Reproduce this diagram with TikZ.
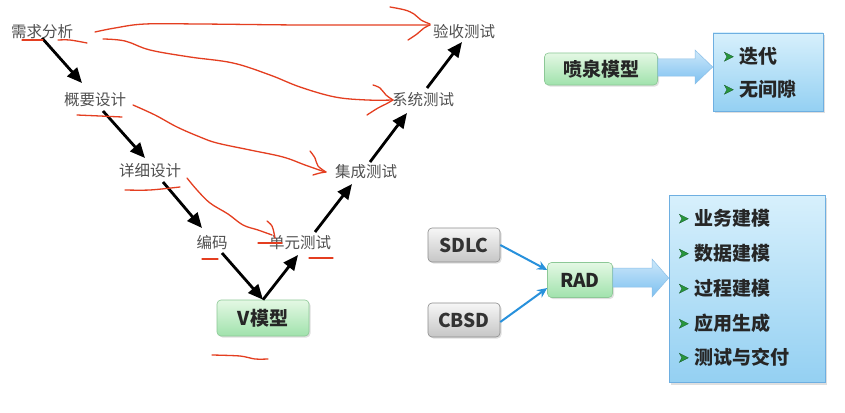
\documentclass[tikz,border=0pt]{standalone}
\usepackage{fontspec}
\setmainfont{Noto Sans CJK SC}
\usetikzlibrary{arrows.meta,calc,shadows}
\definecolor{labelgray}{RGB}{80,80,80}
\definecolor{redink}{RGB}{228,62,32}
\definecolor{gtop}{RGB}{228,248,228}
\definecolor{gbot}{RGB}{160,226,172}
\definecolor{gborder}{RGB}{140,200,150}
\definecolor{graytop}{RGB}{246,246,246}
\definecolor{graybot}{RGB}{198,198,198}
\definecolor{grayborder}{RGB}{140,140,140}
\definecolor{btop}{RGB}{215,240,252}
\definecolor{bbot}{RGB}{148,208,242}
\definecolor{bborder}{RGB}{110,175,225}
\definecolor{atop}{RGB}{205,232,250}
\definecolor{abot}{RGB}{125,192,240}
\definecolor{bullet}{RGB}{40,150,60}
\definecolor{bulletdark}{RGB}{20,90,40}
\definecolor{linkblue}{RGB}{40,145,220}
\begin{document}
\begin{tikzpicture}[x=1pt,y=-1pt,
  lbl/.style={font=\fontsize{15.5}{15.5}\selectfont, text=labelgray, inner sep=0pt},
  varrow/.style={line width=2.8pt, -{Triangle[length=15pt,width=13pt]}, black},
  ink/.style={draw=redink, line width=1.3pt, line cap=round, line join=round},
  greenbox/.style={draw=gborder, line width=0.6pt, rounded corners=4pt, top color=gtop, bottom color=gbot,
    font=\fontsize{19}{19}\selectfont\bfseries, text=black!85, inner sep=0pt,
    drop shadow={opacity=0.25, shadow xshift=1.5pt, shadow yshift=-1.5pt}},
  graybox/.style={draw=grayborder, line width=0.6pt, rounded corners=4pt, top color=graytop, bottom color=graybot,
    font=\fontsize{19}{19}\selectfont\bfseries, text=black!80, inner sep=0pt,
    drop shadow={opacity=0.25, shadow xshift=1.5pt, shadow yshift=-1.5pt}},
  bluebox/.style={draw=bborder, line width=0.6pt, top color=btop, bottom color=bbot, inner sep=0pt,
    drop shadow={opacity=0.25, shadow xshift=2pt, shadow yshift=-2pt}},
  bigarrow/.style={draw=bborder!80, line width=0.5pt, top color=atop, bottom color=abot},
  listitem/.style={anchor=west, font=\fontsize{19}{19}\selectfont\bfseries, text=black!85, inner sep=0pt},
  blink/.style={draw=linkblue, line width=2pt, -{Stealth[length=10pt,width=9pt]}}
]
\useasboundingbox (0,0) rectangle (845,412);
\fill[white] (0,0) rectangle (845,412);
\newcommand{\bul}{\tikz[baseline={(0,-6.5pt)},x=1pt,y=1pt]\filldraw[fill=bullet,draw=bulletdark,line width=0.3pt,line join=miter] (0,-4.5) -- (9,0) -- (0,4.5) -- (2.5,0) -- cycle;\hspace{6pt}}

% ---------- V model labels ----------
\node[lbl] (n1) at (42,32) {需求分析};
\node[lbl] (n2) at (95,100) {概要设计};
\node[lbl] (n3) at (150,171) {详细设计};
\node[lbl] (n4) at (212,243) {编码};
\node[lbl] (n5) at (300,243) {单元测试};
\node[lbl] (n6) at (366,172) {集成测试};
\node[lbl] (n7) at (423,100) {系统测试};
\node[lbl] (n8) at (464,32) {验收测试};
\node[greenbox, minimum width=92pt, minimum height=36pt] (V) at (263,318) {V模型};

% ---------- black arrows ----------
\draw[varrow] ($(n1)+(0,6)$) -- ($(n2)+(-13,-17)$);
\draw[varrow] ($(n2)+(8,11)$) -- ($(n3)+(-5,-13)$);
\draw[varrow] ($(n3)+(13,11)$) -- ($(n4)+(-10,-15)$);
\draw[varrow] ($(n4)+(10,10)$) -- (V.north);
\draw[varrow] (V.north) -- ($(n5)+(-2,12)$);
\draw[varrow] ($(n5)+(15,-11)$) -- ($(n6)+(-14,12)$);
\draw[varrow] ($(n6)+(4,-10)$) -- ($(n7)+(-16,13)$);
\draw[varrow] ($(n7)+(4,-12)$) -- ($(n8)+(-2,10)$);

% ---------- red hand annotations ----------
\draw[ink] plot[smooth, tension=0.6] coordinates {(95,32)(115,28)(145,24)(200,24)(300,25)(380,25)(430,25)};
\draw[ink] plot[smooth, tension=0.6] coordinates {(390,7)(405,10)(414,14)(421,20)(430,24)};
\draw[ink] plot[smooth, tension=0.6] coordinates {(408,40)(417,34)(424,28)(430,25)};

\draw[ink] plot[smooth, tension=0.6] coordinates {(103,39)(125,41)(150,50)(190,57)(233,63)(270,75)(300,87)(335,97)(367,100)(393,100)};
\draw[ink] plot[smooth, tension=0.6] coordinates {(373,85)(380,88)(386,95)(393,100)};
\draw[ink] plot[smooth, tension=0.6] coordinates {(367,115)(378,108)(386,104)(393,100)};

\draw[ink] plot[smooth, tension=0.6] coordinates {(133,105)(155,115)(177,127)(200,137)(217,143)(250,150)(283,157)(305,165)(325,172)};
\draw[ink] plot[smooth, tension=0.6] coordinates {(310,151)(315,158)(318,166)(326,172)};
\draw[ink] plot[smooth, tension=0.6] coordinates {(313,175)(320,173)(326,172)};

\draw[ink] plot[smooth, tension=0.6] coordinates {(187,178)(197,190)(210,203)(228,214)(243,225)(258,230)(272,235)};
\draw[ink] plot[smooth, tension=0.6] coordinates {(267,221)(272,226)(274,233)(275,238)};
\draw[ink] (258,243) -- (282,243);

% underlines
\draw[ink] (22,40) -- (43,40);
\draw[ink] plot[smooth] coordinates {(58,40)(70,40)(87,43)};
\draw[ink] plot[smooth] coordinates {(77,115)(100,116)(122,117)};
\draw[ink] plot[smooth] coordinates {(125,190)(150,190)(180,187)};
\draw[ink] (202,259) -- (218,259);
\draw[ink] (309,258) -- (333,258);
\draw[ink] plot[smooth] coordinates {(212,355)(240,356)(255,359)(268,359)};

% ---------- fountain model ----------
\node[greenbox, minimum width=113pt, minimum height=32pt] (F) at (601,69) {喷泉模型};
\node[bluebox, minimum width=110pt, minimum height=78pt] (FB) at (768,72) {};
\node[listitem] (f1) at (724,56) {\bul 迭代};
\node[listitem] (f2) at (724,89) {\bul 无间隙};
\path[bigarrow] (F.east |- 0,59) -- (695,59) -- (695,50) -- (FB.west |- 0,67) -- (695,84) -- (695,76) -- (F.east |- 0,76) -- cycle;

% ---------- RAD ----------
\node[graybox, minimum width=72pt, minimum height=34pt] (S) at (464,245) {SDLC};
\node[graybox, minimum width=72pt, minimum height=34pt] (C) at (464,320) {CBSD};
\node[greenbox, minimum width=65pt, minimum height=35pt] (R) at (580,280) {RAD};
\node[bluebox, minimum width=156pt, minimum height=187pt] (RB) at (747,289) {};
\draw[blink] (S.east) -- ($(R.west)+(0,-10)$);
\draw[blink] ($(C.east)+(0,2)$) -- ($(R.west)+(0,8)$);
\path[bigarrow] (R.east |- 0,268) -- (652,268) -- (652,259) -- (RB.west |- 0,278) -- (652,297) -- (652,287) -- (R.east |- 0,287) -- cycle;
\node[listitem] (r1) at (679,218) {\bul 业务建模};
\node[listitem] (r2) at (679,253) {\bul 数据建模};
\node[listitem] (r3) at (679,288) {\bul 过程建模};
\node[listitem] (r4) at (679,323) {\bul 应用生成};
\node[listitem] (r5) at (679,357) {\bul 测试与交付};
\end{tikzpicture}
\end{document}
